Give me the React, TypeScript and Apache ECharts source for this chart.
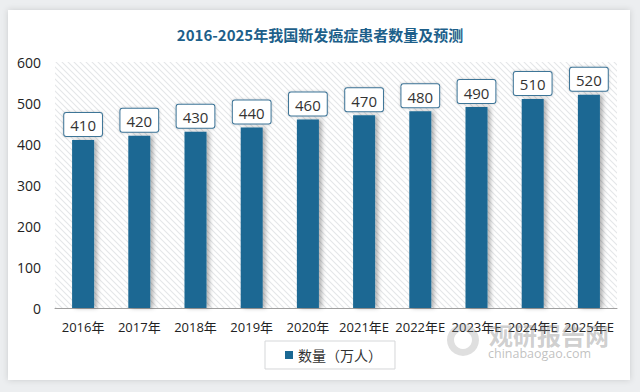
import React, { useEffect, useRef } from "react";
import * as echarts from "echarts";

const categories = ["2016年", "2017年", "2018年", "2019年", "2020年", "2021年E", "2022年E", "2023年E", "2024年E", "2025年E"];
const values = [410, 420, 430, 440, 460, 470, 480, 490, 510, 520];
const seriesName = "数量（万人）";
const titleText = "2016-2025年我国新发癌症患者数量及预测";

function makeHatch(): HTMLCanvasElement {
  const c = document.createElement("canvas");
  c.width = 6;
  c.height = 6;
  const ctx = c.getContext("2d")!;
  ctx.fillStyle = "#ffffff";
  ctx.fillRect(0, 0, 6, 6);
  ctx.strokeStyle = "#e4e6e8";
  ctx.lineWidth = 1.1;
  ctx.beginPath();
  ctx.moveTo(-1, -1);
  ctx.lineTo(7, 7);
  ctx.moveTo(-1, 5);
  ctx.lineTo(1, 7);
  ctx.moveTo(5, -1);
  ctx.lineTo(7, 1);
  ctx.stroke();
  return c;
}

export default function App() {
  const ref = useRef<HTMLDivElement>(null);
  useEffect(() => {
    if (!ref.current) return;
    const chart = echarts.init(ref.current, null, { renderer: "svg" });
    const font = "'Open Sans', 'Noto Sans CJK SC', sans-serif";
    chart.setOption({
      animation: false,
      backgroundColor: "#eceef0",
      textStyle: { fontFamily: font },
      graphic: [
        {
          type: "rect",
          shape: { x: 8, y: 10, width: 622, height: 370 },
          style: { fill: "#ffffff", shadowBlur: 6, shadowColor: "rgba(0,0,0,0.15)" },
          z: -10,
        },
        {
          type: "ring",
          shape: { cx: 463, cy: 340, r: 16, r0: 9 },
          style: { fill: "rgba(150,150,150,0.3)" },
          z: 100,
        },
        {
          type: "text",
          left: 489,
          top: 322,
          style: { text: "观研报告网", fill: "rgba(130,130,130,0.4)", font: "bold 24px 'Noto Sans CJK SC'" },
          z: 100,
        },
        {
          type: "text",
          left: 488,
          top: 347,
          style: { text: "chinabaogao.com", fill: "rgba(130,130,130,0.5)", font: "12.5px 'Open Sans'" },
          z: 100,
        },
      ],
      title: {
        text: titleText,
        left: "center",
        top: 22,
        textStyle: { fontFamily: "'Noto Sans CJK SC'", fontSize: 15, fontWeight: "bold", color: "#1d5f8a" },
      },
      legend: {
        data: [seriesName],
        left: 265,
        top: 341,
        icon: "rect",
        itemWidth: 8,
        itemHeight: 8,
        itemGap: 6,
        padding: [7, 13, 7, 20],
        borderColor: "#d5d7d9",
        borderWidth: 1,
        backgroundColor: "#ffffff",
        textStyle: { fontSize: 14, color: "#333", fontFamily: "'Noto Sans CJK SC'" },
      },
      grid: {
        left: 55,
        right: 23,
        top: 62,
        bottom: 84,
        show: true,
        borderWidth: 0,
        backgroundColor: { image: makeHatch(), repeat: "repeat" },
      },
      xAxis: {
        type: "category",
        data: categories,
        axisTick: { show: false },
        axisLine: { lineStyle: { color: "#a0a0a0", width: 1 } },
        axisLabel: { fontSize: 13, color: "#222", margin: 12, interval: 0 },
      },
      yAxis: {
        type: "value",
        min: 0,
        max: 600,
        interval: 100,
        splitLine: { show: false },
        axisLine: { show: false },
        axisTick: { show: false },
        axisLabel: { fontSize: 14, color: "#222", margin: 14 },
      },
      series: [
        {
          name: seriesName,
          type: "bar",
          data: values,
          barWidth: 22,
          itemStyle: {
            color: "#1a6893",
            shadowColor: "rgba(0,0,0,0.3)",
            shadowBlur: 4,
            shadowOffsetX: 3,
            shadowOffsetY: 0,
          },
          label: {
            show: true,
            position: "top",
            distance: 4,
            fontSize: 15,
            color: "#333",
            backgroundColor: "#ffffff",
            borderColor: "#3d7497",
            borderWidth: 1,
            borderRadius: 2,
            padding: [5, 6, 3, 6],
            shadowColor: "rgba(0,0,0,0.2)",
            shadowBlur: 3,
          },
        },
      ],
    });
    return () => chart.dispose();
  }, []);
  return <div ref={ref} style={{ position: "fixed", left: 0, top: 0, width: 640, height: 392 }} />;
}
